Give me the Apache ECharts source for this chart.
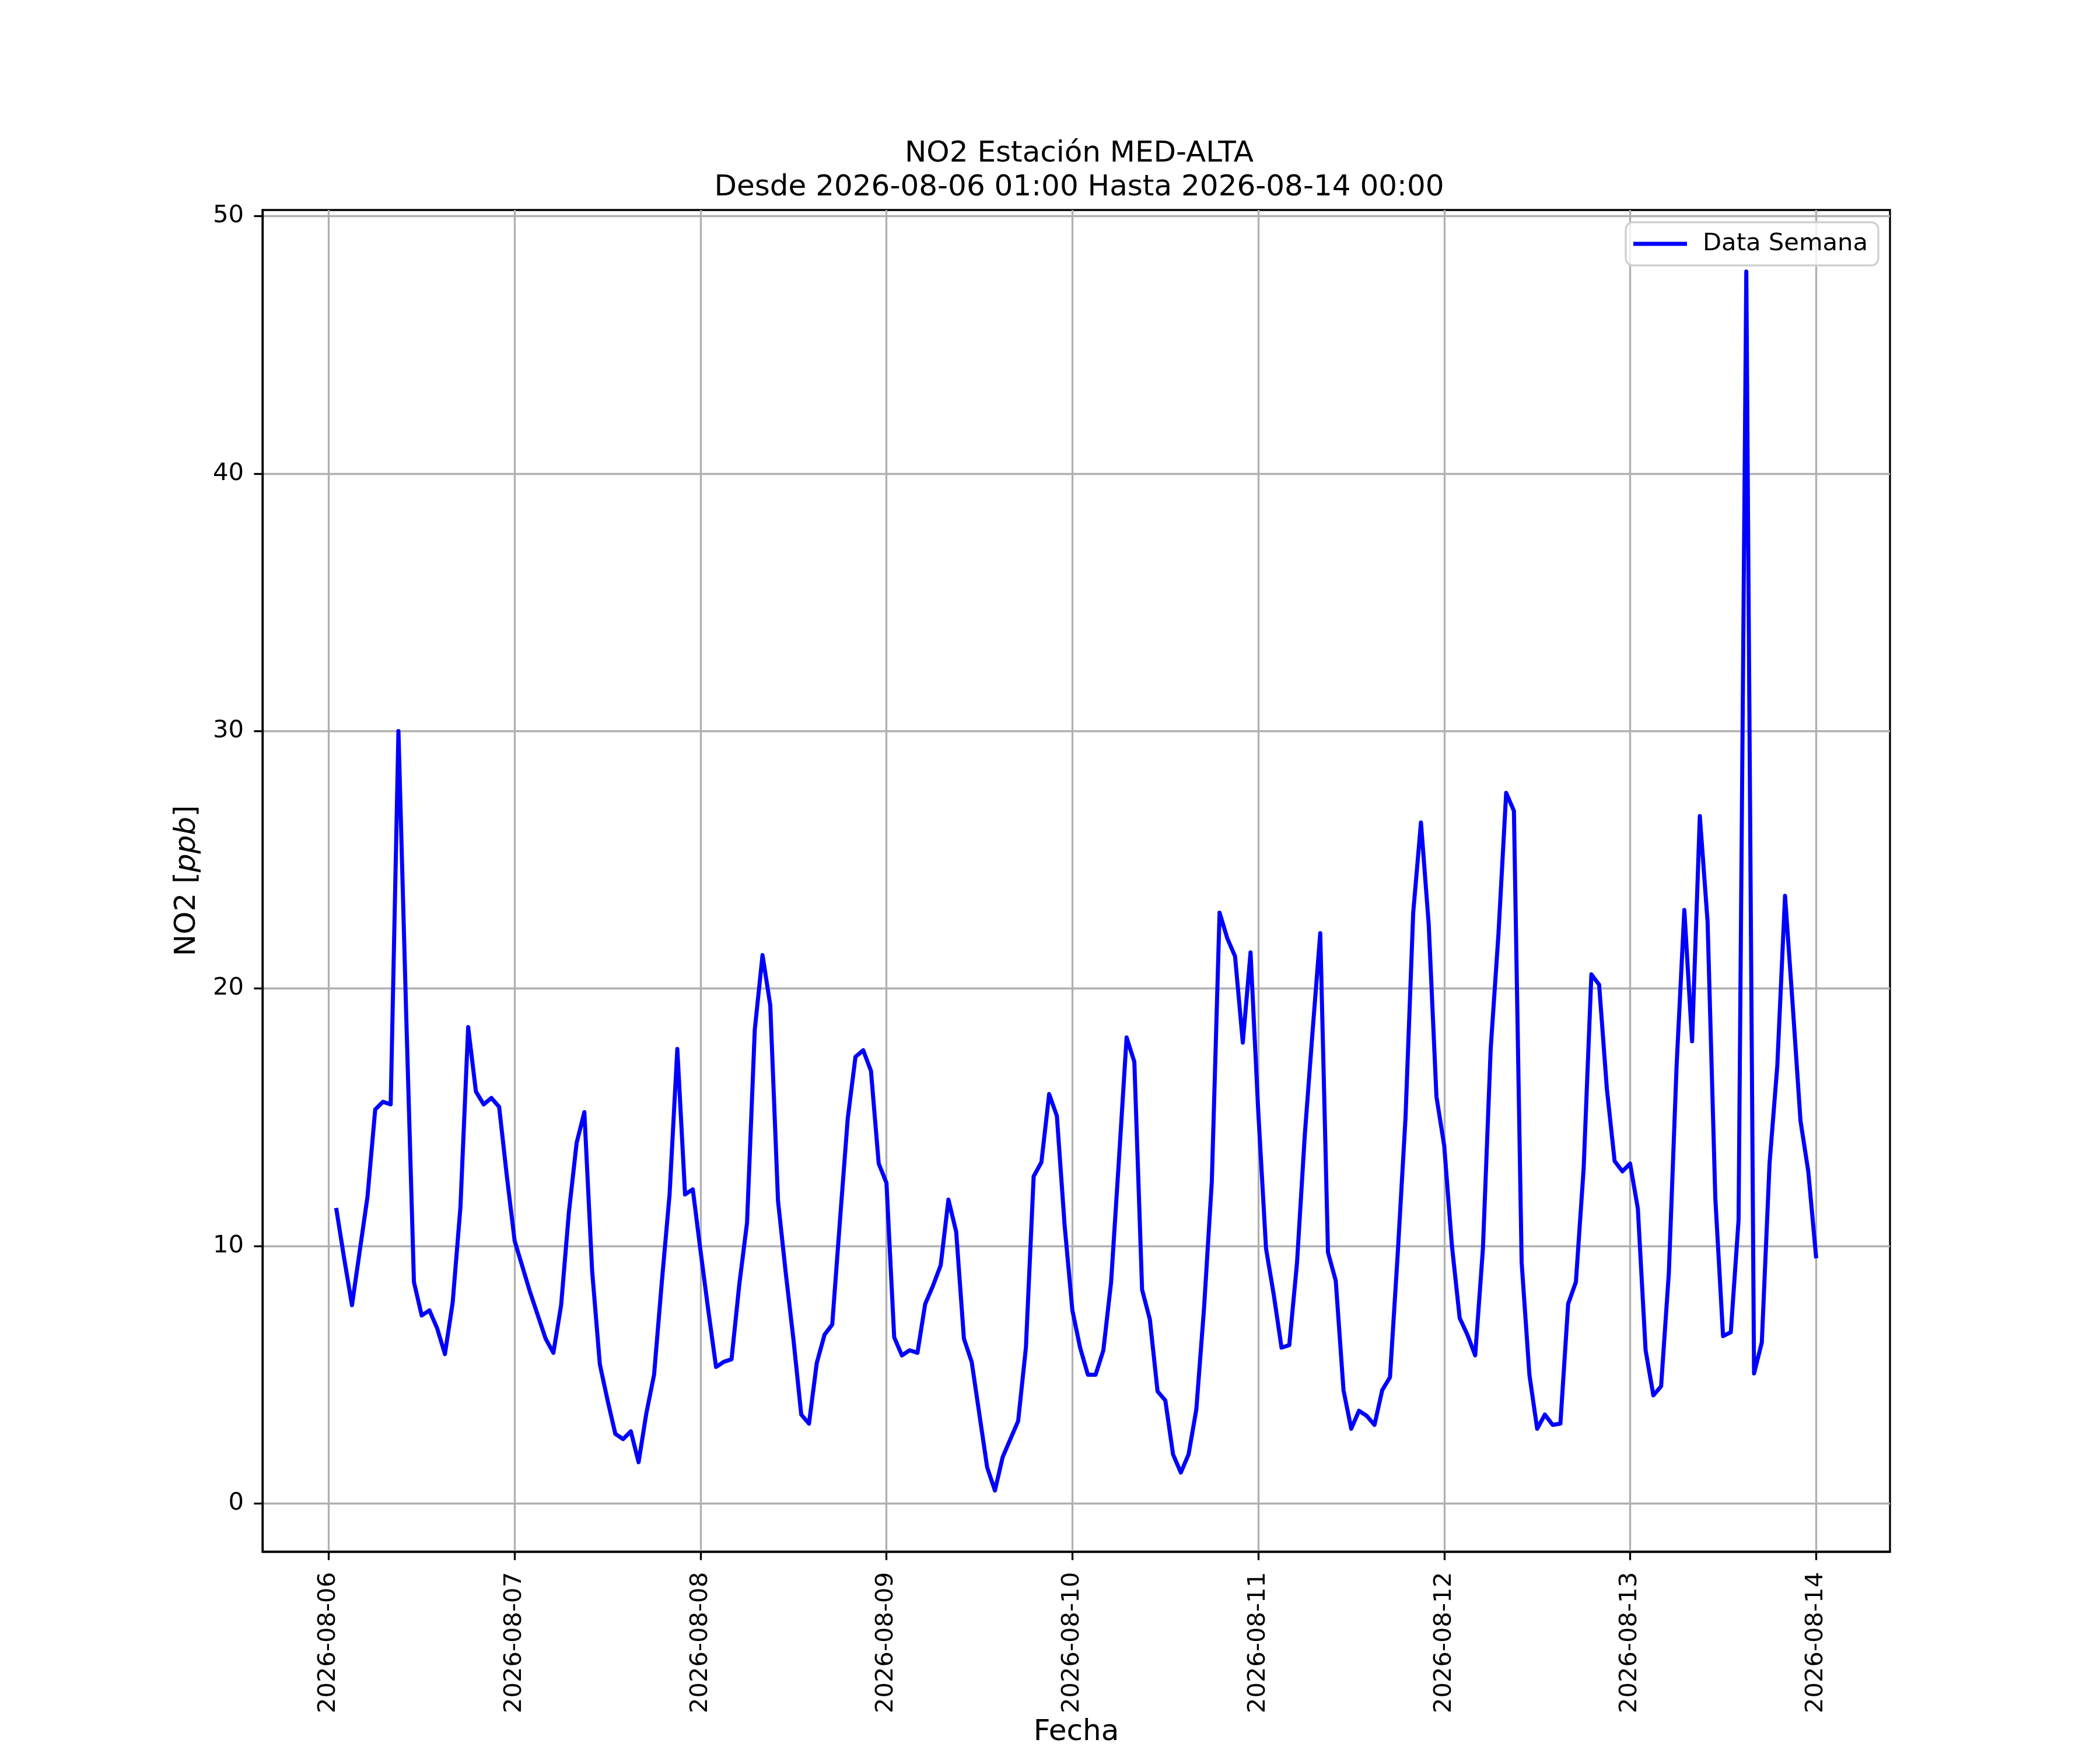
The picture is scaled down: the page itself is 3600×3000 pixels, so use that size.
<!DOCTYPE html>
<html>
<head>
<meta charset="utf-8">
<title>NO2 Estación MED-ALTA</title>
<script src="https://cdn.jsdelivr.net/npm/echarts@6/dist/echarts.min.js"></script>
<style>
  html, body { margin: 0; padding: 0; background: #fff; }
  #chart { width: 3600px; height: 3000px; }
</style>
</head>
<body>
<div id="chart"></div>
<script>
(function () {
  'use strict';

  // hourly NO2 [ppb], each array runs from 01:00 of that day to 00:00 of the next
  var aug06 = [11.4, 9.5, 7.7, 9.8, 11.9, 15.3, 15.6, 15.5, 30.0, 19.0, 8.6, 7.3,
    7.5, 6.8, 5.8, 7.8, 11.5, 18.5, 16.0, 15.5, 15.75, 15.4, 12.7, 10.2];
  var aug07 = [9.2, 8.2, 7.3, 6.4, 5.85, 7.7, 11.3, 14.0, 15.2, 9.05, 5.4, 4.0,
    2.7, 2.5, 2.8, 1.6, 3.5, 5.0, 8.6, 12.0, 17.65, 12.0, 12.2, 9.8];
  var aug08 = [7.5, 5.3, 5.5, 5.6, 8.5, 10.9, 18.4, 21.3, 19.35, 11.75, 8.95, 6.35,
    3.45, 3.1, 5.45, 6.55, 6.95, 11.0, 14.95, 17.35, 17.6, 16.8, 13.2, 12.45];
  var aug09 = [6.45, 5.75, 5.95, 5.85, 7.75, 8.45, 9.25, 11.8, 10.55, 6.4, 5.5, 3.45,
    1.4, 0.5, 1.8, 2.5, 3.2, 6.05, 12.7, 13.25, 15.9, 15.05, 10.8, 7.5];
  var aug10 = [6.05, 5.0, 5.0, 5.95, 8.6, 13.3, 18.1, 17.15, 8.3, 7.15, 4.35, 4.0,
    1.9, 1.2, 1.9, 3.65, 7.6, 12.5, 22.95, 21.95, 21.25, 17.9, 21.4, 15.2];
  var aug11 = [9.9, 8.1, 6.05, 6.15, 9.35, 14.3, 18.3, 22.15, 9.75, 8.65, 4.4, 2.9,
    3.6, 3.4, 3.05, 4.4, 4.9, 9.7, 14.95, 22.95, 26.45, 22.5, 15.8, 13.9];
  var aug12 = [10.0, 7.2, 6.55, 5.75, 9.9, 17.65, 22.1, 27.6, 26.9, 9.35, 5.0, 2.9,
    3.45, 3.05, 3.1, 7.75, 8.6, 13.0, 20.55, 20.15, 16.1, 13.3, 12.9, 13.2];
  var aug13 = [11.45, 5.95, 4.2, 4.55, 8.95, 17.0, 23.05, 17.95, 26.7, 22.6, 11.85, 6.5,
    6.65, 11.0, 47.85, 5.05, 6.25, 13.2, 17.0, 23.6, 19.3, 14.85, 12.9, 9.6];

  var dayTicks = [0, 1, 2, 3, 4, 5, 6, 7, 8];      // days after 2026-08-06 00:00
  var valueTicks = [0, 10, 20, 30, 40, 50];
  var startDate = Date.UTC(2026, 7, 6);

  var values = [].concat(aug06, aug07, aug08, aug09, aug10, aug11, aug12, aug13);
  var points = values.map(function (v, i) {
    return [(i + 1) / 24, v];  // first sample is 01:00
  });

  var dayLabel = function (d) {
    return new Date(startDate + Math.round(d) * 86400000).toISOString().slice(0, 10);
  };

  var font = 'DejaVu Sans';
  var grey = '#b0b0b0';

  var myChart = echarts.init(document.getElementById('chart'), null, { renderer: 'canvas' });
  var option = {
    animation: false,
    backgroundColor: '#ffffff',
    textStyle: { fontFamily: font, color: '#000' },
    title: {
      text: 'NO2 Estación MED-ALTA\nDesde 2026-08-06 01:00 Hasta 2026-08-14 00:00',
      left: 1845,
      top: 230,
      textAlign: 'center',
      textStyle: {
        fontFamily: font,
        fontSize: 50,
        fontWeight: 'normal',
        lineHeight: 58,
        color: '#000'
      }
    },
    legend: {
      data: ['Data Semana'],
      right: 380,
      top: 381,
      orient: 'vertical',
      icon: 'rect',
      itemWidth: 92,
      itemHeight: 7,
      padding: [16, 18, 16, 13],
      backgroundColor: 'rgba(255,255,255,0.8)',
      borderColor: '#d0d0d0',
      borderWidth: 3.3,
      borderRadius: 12,
      textStyle: {
        fontFamily: font,
        fontSize: 41.7,
        color: '#000',
        padding: [0, 0, 0, 22]
      }
    },
    grid: {
      left: 450,
      right: 360,
      top: 360,
      bottom: 330,
      show: true,
      borderColor: '#000',
      borderWidth: 3.3,
      backgroundColor: 'transparent'
    },
    xAxis: {
      type: 'value',
      min: -0.35625,
      max: 8.3979,
      splitNumber: 9,
      name: 'Fecha',
      nameLocation: 'middle',
      nameGap: 285,
      nameTextStyle: { fontFamily: font, fontSize: 50, color: '#000' },
      axisLine: { show: true, onZero: false, lineStyle: { color: '#000', width: 3.3 } },
      axisTick: {
        show: true,
        length: 14.6,
        customValues: dayTicks,
        lineStyle: { color: '#000', width: 3.3 }
      },
      axisLabel: {
        rotate: 90,
        margin: 35,
        fontFamily: font,
        fontSize: 41.7,
        color: '#000',
        customValues: dayTicks,
        formatter: dayLabel
      },
      splitLine: { show: true, lineStyle: { color: grey, width: 3.3 } }
    },
    yAxis: {
      type: 'value',
      min: -1.87,
      max: 50.24,
      splitNumber: 5,
      name: 'NO2 [{i|ppb}]',
      nameLocation: 'middle',
      nameGap: 104,
      nameTextStyle: {
        fontFamily: font,
        fontSize: 50,
        color: '#000',
        rich: { i: { fontFamily: font, fontSize: 50, fontStyle: 'italic', color: '#000' } }
      },
      axisLine: { show: true, onZero: false, lineStyle: { color: '#000', width: 3.3 } },
      axisTick: {
        show: true,
        length: 14.6,
        customValues: valueTicks,
        lineStyle: { color: '#000', width: 3.3 }
      },
      axisLabel: {
        margin: 32,
        fontFamily: font,
        fontSize: 41.7,
        color: '#000',
        customValues: valueTicks
      },
      splitLine: { show: true, lineStyle: { color: grey, width: 3.3 } }
    },
    series: [{
      name: 'Data Semana',
      type: 'line',
      data: points,
      showSymbol: false,
      symbol: 'none',
      color: '#0000ff',
      lineStyle: { color: '#0000ff', width: 7, join: 'round', cap: 'square' },
      z: 3
    }]
  };
  myChart.setOption(option);
})();
</script>
</body>
</html>
